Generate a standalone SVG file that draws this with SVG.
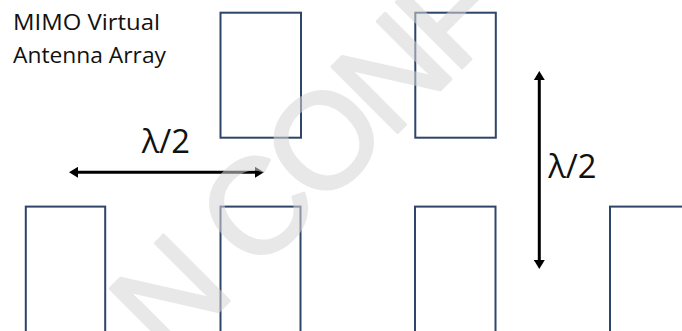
<svg xmlns="http://www.w3.org/2000/svg" width="682" height="331" viewBox="0 0 682 331">
  <style>
    .ant { fill: none; stroke: #2f4469; stroke-width: 2; }
    .lbl { font-family: "Open Sans", "Liberation Sans", sans-serif; fill: #111111; }
    .dim { stroke: #000000; stroke-width: 3; fill: none; }
    .wm { font-family: "Liberation Sans", Arial, sans-serif; font-size: 135px; letter-spacing: -6px; fill: #d6d6d6; stroke: #d6d6d6; stroke-width: 3; stroke-linejoin: round; opacity: 0.55; }
  </style>
  <defs>
    <marker id="head" viewBox="0 0 9 11" refX="0.5" refY="5.5" markerWidth="9" markerHeight="11" markerUnits="userSpaceOnUse" orient="auto-start-reverse">
      <path d="M0,0 L9,5.5 L0,11 Z" fill="#000000"/>
    </marker>
  </defs>

  <rect width="682" height="331" fill="#ffffff"/>

  <!-- title -->
  <g id="title" class="lbl" font-size="21">
    <text x="13" y="30" textLength="147" lengthAdjust="spacingAndGlyphs">MIMO Virtual</text>
    <text x="13" y="62.5" textLength="153" lengthAdjust="spacingAndGlyphs">Antenna Array</text>
  </g>

  <!-- upper row of antenna elements -->
  <g id="ant-top-1"><rect class="ant" x="220.5" y="12.7" width="80.5" height="125"/></g>
  <g id="ant-top-2"><rect class="ant" x="415.3" y="12.7" width="80.5" height="125"/></g>

  <!-- lower row of antenna elements (run off the bottom edge) -->
  <g id="ant-bot-1"><rect class="ant" x="25.8" y="206.6" width="79.4" height="140"/></g>
  <g id="ant-bot-2"><rect class="ant" x="220.5" y="206.6" width="80" height="140"/></g>
  <g id="ant-bot-3"><rect class="ant" x="415" y="206.6" width="80.5" height="140"/></g>
  <g id="ant-bot-4"><rect class="ant" x="610" y="206.6" width="90" height="140"/></g>

  <!-- spacing arrows -->
  <g id="connectors">
    <line class="dim" x1="77.5" y1="172.3" x2="255.5" y2="172.3" marker-start="url(#head)" marker-end="url(#head)"/>
    <line class="dim" x1="539.3" y1="79.5" x2="539.3" y2="260.5" marker-start="url(#head)" marker-end="url(#head)"/>
  </g>

  <!-- spacing labels -->
  <g id="label-h" class="lbl" font-size="32">
    <text x="141.7" y="153.3" textLength="48.3" lengthAdjust="spacingAndGlyphs">λ/2</text>
  </g>
  <g id="label-v" class="lbl" font-size="32">
    <text x="548.3" y="178.3" textLength="48.3" lengthAdjust="spacingAndGlyphs">λ/2</text>
  </g>

  <!-- diagonal watermark -->
  <g id="watermark" transform="translate(168 362) rotate(-45)">
    <text class="wm" x="0" y="0">N CONF</text>
  </g>
</svg>
